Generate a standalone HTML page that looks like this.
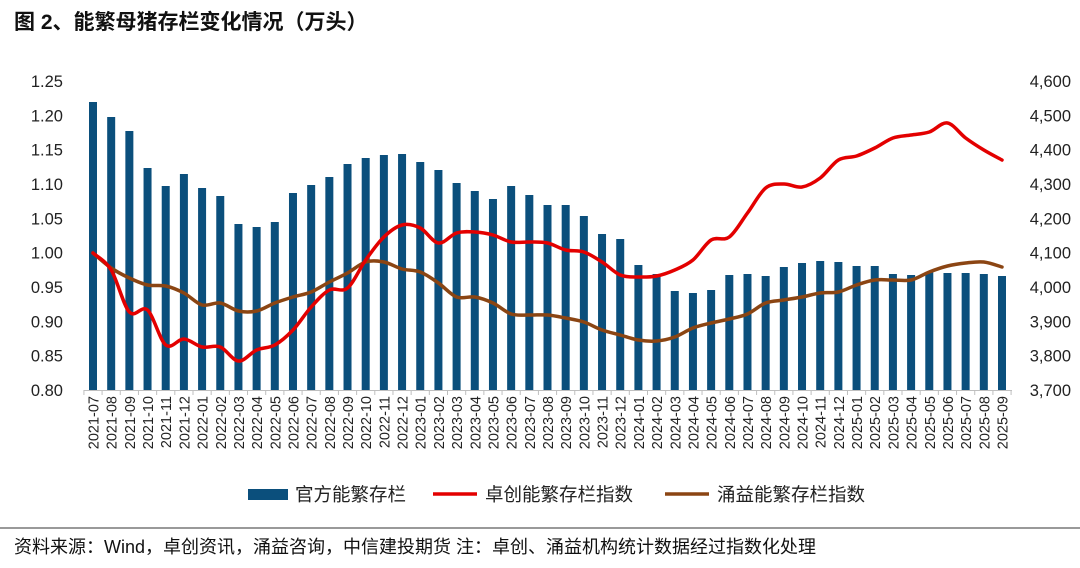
<!DOCTYPE html>
<html><head><meta charset="utf-8"><style>
body{margin:0;background:#fff;width:1080px;height:563px;overflow:hidden;font-family:"Liberation Sans","Noto Sans CJK SC",sans-serif}
</style></head><body>
<svg id="s" width="1080" height="563" xmlns="http://www.w3.org/2000/svg" font-family="Liberation Sans, Noto Sans CJK SC, sans-serif">
<text x="14" y="29" font-size="21" font-weight="bold" fill="#111">图 2、能繁母猪存栏变化情况（万头）</text>
<line x1="0" y1="528" x2="1080" y2="528" stroke="#333" stroke-width="1"/>
<text x="14" y="553" font-size="18" fill="#111">资料来源：Wind，卓创资讯，涌益咨询，中信建投期货  注：卓创、涌益机构统计数据经过指数化处理</text>
<g id="g"></g>
</svg>
<script>
const g=document.getElementById('g');let h='';
const x0=93,dx=18.18,base=390;
const bars=[102,117,131,168,186,174,188,196,224,227,222,193,185,177,164,158,155,154,162,170,183,191,199,186,195,205,205,216,234,239,265,274,291,293,290,275,274,276,267,263,261,262,266,266,274,275,272,273,273,274,276];
const red=[253,270,312,310,345,339,347,347,361,350,345,330,307,290,288,260,237,225,228,243,233,232,235,242,242,243,250,252,262,275,277,276,270,260,240,237,213,188,184,187,178,160,156,148,138,135,132,123,138,150,160];
const br=[253,268,278,285,286,293,305,303,311,311,303,297,292,282,273,262,262,269,272,283,297,297,303,314,315,315,318,322,330,335,340,341,337,328,323,319,314,303,300,297,293,292,285,280,280,280,272,266,263,262,267];
const months=[];for(let y=2021,m=7;months.length<51;){months.push(y+'-'+String(m).padStart(2,'0'));m++;if(m>12){m=1;y++;}}
const L=['1.25','1.20','1.15','1.10','1.05','1.00','0.95','0.90','0.85','0.80'];
const R=['4,600','4,500','4,400','4,300','4,200','4,100','4,000','3,900','3,800','3,700'];
for(let i=0;i<10;i++){const y=81+i*309/9;
h+=`<text x="63" y="${y+6}" font-size="16.5" text-anchor="end" fill="#222">${L[i]}</text>`;
h+=`<text x="1071" y="${y+6}" font-size="16.5" text-anchor="end" fill="#222">${R[i]}</text>`;}
bars.forEach((t,i)=>{const x=x0+i*dx;h+=`<rect x="${x-4}" y="${t}" width="8" height="${base-t}" fill="#0b4f7c"/>`;});
h+=`<line x1="84" y1="390.5" x2="1012" y2="390.5" stroke="#bfbfbf"/>`;
for(let i=0;i<=51;i++){const x=x0-dx/2+i*dx;h+=`<line x1="${x}" y1="390" x2="${x}" y2="395" stroke="#bfbfbf"/>`;}
months.forEach((m,i)=>{const x=x0+i*dx+5.5;h+=`<text transform="translate(${x},396) rotate(-90)" font-size="14.5" text-anchor="end" fill="#222">${m}</text>`;});
function path(a){const p=a.map((y,i)=>[x0+i*dx,y]);let d=`M${p[0][0]},${p[0][1]}`;
for(let i=0;i<p.length-1;i++){const p0=p[i-1]||p[i],p1=p[i],p2=p[i+1],p3=p[i+2]||p2;
d+=` C${p1[0]+(p2[0]-p0[0])/6},${p1[1]+(p2[1]-p0[1])/6} ${p2[0]-(p3[0]-p1[0])/6},${p2[1]-(p3[1]-p1[1])/6} ${p2[0]},${p2[1]}`;}return d;}
h+=`<path d="${path(br)}" fill="none" stroke="#8b4513" stroke-width="3.5" stroke-linecap="round"/>`;
h+=`<path d="${path(red)}" fill="none" stroke="#e30000" stroke-width="3.5" stroke-linecap="round"/>`;
h+=`<rect x="248" y="489" width="40" height="11" fill="#0b4f7c"/><text x="295" y="501" font-size="18.5" fill="#222">官方能繁存栏</text>`;
h+=`<line x1="433" y1="494" x2="477" y2="494" stroke="#e30000" stroke-width="3.5"/><text x="485" y="501" font-size="18.5" fill="#222">卓创能繁存栏指数</text>`;
h+=`<line x1="665" y1="494" x2="709" y2="494" stroke="#8b4513" stroke-width="3.5"/><text x="717" y="501" font-size="18.5" fill="#222">涌益能繁存栏指数</text>`;
g.innerHTML=h;
</script>
</body></html>
